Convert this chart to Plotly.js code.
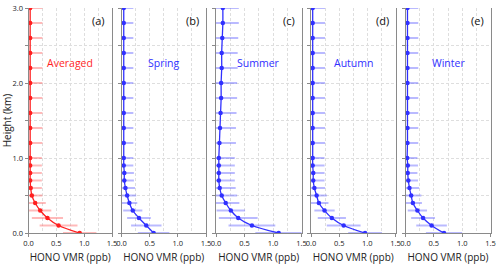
<!DOCTYPE html>
<html>
<head>
<meta charset="utf-8">
<script src="https://cdn.plot.ly/plotly-3.0.1.min.js"></script>
<style>
  html, body { margin: 0; padding: 0; background: #fff; }
  #chart { width: 500px; height: 264px; }
</style>
</head>
<body>
<div id="chart"></div>
<script>
// Heights (km)
const heights = [0, 0.1, 0.2, 0.3, 0.4, 0.5, 0.6, 0.7, 0.8, 0.9, 1.0, 1.2, 1.4, 1.6, 1.8, 2.0, 2.2, 2.4, 2.6, 2.8, 3.0];

// HONO VMR (ppb) and standard deviations
const averagedVals = [0.92, 0.54, 0.34, 0.21, 0.12, 0.06, 0.04, 0.03, 0.03, 0.03, 0.03, 0.03, 0.03, 0.03, 0.03, 0.03, 0.03, 0.03, 0.03, 0.03, 0.03];
const averagedErr  = [0.30, 0.34, 0.28, 0.20, 0.19, 0.19, 0.20, 0.21, 0.21, 0.21, 0.21, 0.22, 0.22, 0.22, 0.22, 0.22, 0.22, 0.22, 0.22, 0.22, 0.22];

const springVals = [0.57, 0.44, 0.31, 0.20, 0.14, 0.10, 0.07, 0.05, 0.05, 0.04, 0.04, 0.04, 0.04, 0.04, 0.04, 0.04, 0.04, 0.04, 0.04, 0.04, 0.04];
const springErr  = [0.28, 0.27, 0.21, 0.17, 0.14, 0.16, 0.17, 0.17, 0.17, 0.17, 0.17, 0.17, 0.17, 0.17, 0.17, 0.17, 0.17, 0.17, 0.17, 0.17, 0.17];

const summerVals = [1.10, 0.63, 0.39, 0.26, 0.17, 0.10, 0.065, 0.05, 0.05, 0.05, 0.05, 0.06, 0.07, 0.08, 0.09, 0.09, 0.10, 0.10, 0.11, 0.12, 0.12];
const summerErr  = [0.41, 0.41, 0.34, 0.25, 0.24, 0.27, 0.28, 0.28, 0.28, 0.28, 0.28, 0.29, 0.28, 0.28, 0.28, 0.28, 0.28, 0.28, 0.28, 0.28, 0.28];

const autumnVals = [0.96, 0.58, 0.37, 0.24, 0.14, 0.10, 0.06, 0.04, 0.04, 0.03, 0.03, 0.03, 0.03, 0.03, 0.03, 0.03, 0.03, 0.03, 0.03, 0.03, 0.03];
const autumnErr  = [0.30, 0.30, 0.25, 0.18, 0.17, 0.18, 0.19, 0.20, 0.20, 0.21, 0.21, 0.22, 0.22, 0.22, 0.22, 0.22, 0.22, 0.22, 0.22, 0.22, 0.22];

const winterVals = [0.68, 0.46, 0.31, 0.21, 0.13, 0.10, 0.07, 0.05, 0.04, 0.04, 0.03, 0.035, 0.035, 0.035, 0.035, 0.035, 0.035, 0.035, 0.035, 0.035, 0.035];
const winterErr  = [0.32, 0.27, 0.21, 0.17, 0.16, 0.18, 0.17, 0.17, 0.17, 0.18, 0.18, 0.19, 0.19, 0.19, 0.19, 0.19, 0.19, 0.19, 0.19, 0.19, 0.19];

const panelNames  = ['Averaged', 'Spring', 'Summer', 'Autumn', 'Winter'];
const panelTags   = ['(a)', '(b)', '(c)', '(d)', '(e)'];
const panelVals   = [averagedVals, springVals, summerVals, autumnVals, winterVals];
const panelErrs   = [averagedErr, springErr, summerErr, autumnErr, winterErr];

const xTickVals = [0, 0.5, 1.0, 1.5];
const xTickText = ['0.0', '0.5', '1.0', '1.5'];
const yTickVals = [0, 0.5, 1.0, 1.5, 2.0, 2.5, 3.0];
const yTickText = ['0.0', '', '1.0', '', '2.0', '', '3.0'];

const xTitle = 'HONO VMR (ppb)';
const yTitle = 'Height (km)';

// Styling (kept out of data)
const W = 500, H = 264;
const lineColors = ['#ff1f1f', '#3030ff', '#3030ff', '#3030ff', '#3030ff'];
const errColors  = ['rgba(255,90,90,0.42)', 'rgba(90,90,255,0.42)', 'rgba(90,90,255,0.42)', 'rgba(90,90,255,0.42)', 'rgba(90,90,255,0.42)'];
const panelPx = [[28.5, 112], [121.5, 206], [216, 301.5], [311, 395.5], [405.5, 490.5]];
const plotTop = 8, plotBottom = 233;
const FONT = '"Open Sans", "Noto Sans", sans-serif';
const GRID = '#dedede';
const AXIS = '#8a8a8a';

const traces = [];
const layout = {
  width: W, height: H,
  margin: {l: 0, r: 0, t: 0, b: 0},
  paper_bgcolor: '#fff', plot_bgcolor: '#fff',
  showlegend: false,
  font: {family: FONT, color: '#222', size: 9},
  annotations: []
};

const yDomain = [(H - plotBottom) / H, (H - plotTop) / H];

for (let i = 0; i < 5; i++) {
  const sfx = i === 0 ? '' : String(i + 1);
  const xa = 'x' + sfx, ya = 'y' + sfx;
  traces.push({
    type: 'scatter', mode: 'lines+markers',
    x: panelVals[i], y: heights,
    xaxis: xa, yaxis: ya,
    line: {color: lineColors[i], width: 1.3, shape: 'spline', smoothing: 1},
    marker: {color: lineColors[i], size: 4.5, symbol: 'circle'},
    error_x: {type: 'data', array: panelErrs[i], symmetric: true, visible: true,
              color: errColors[i], thickness: 2, width: 0},
    hoverinfo: 'x+y'
  });

  layout['xaxis' + sfx] = {
    domain: [panelPx[i][0] / W, panelPx[i][1] / W],
    anchor: ya,
    range: [0, 1.5],
    tickmode: 'array', tickvals: xTickVals, ticktext: xTickText,
    ticks: 'outside', ticklen: 3, tickcolor: AXIS, tickwidth: 1,
    tickfont: {size: 7.5, color: '#222'},
    showline: true, linecolor: AXIS, linewidth: 1, mirror: false,
    showgrid: true, gridcolor: GRID, griddash: '3px,2px', gridwidth: 1,
    minor: {dtick: 0.25, tick0: 0, showgrid: true, gridcolor: GRID, griddash: '3px,2px', gridwidth: 1, ticks: ''},
    zeroline: false,
    title: {text: xTitle, font: {size: 10, color: '#222'}, standoff: 6},
    fixedrange: true
  };
  layout['yaxis' + sfx] = {
    domain: yDomain,
    anchor: xa,
    range: [0, 3],
    tickmode: 'array', tickvals: yTickVals, ticktext: yTickText,
    showticklabels: i === 0,
    ticks: 'outside', ticklen: 3, tickcolor: AXIS, tickwidth: 1,
    tickfont: {size: 7.5, color: '#222'},
    showline: true, linecolor: AXIS, linewidth: 1, mirror: true,
    showgrid: true, gridcolor: GRID, griddash: '3px,2px', gridwidth: 1,
    zeroline: false,
    fixedrange: true
  };
  if (i === 0) {
    layout.yaxis.title = {text: yTitle, font: {size: 10, color: '#222'}, standoff: 4};
  }

  layout.annotations.push({
    xref: xa + ' domain', yref: ya,
    x: 1, y: 2.83, xanchor: 'right', yanchor: 'middle', xshift: -5,
    text: panelTags[i], showarrow: false,
    font: {size: 11, color: '#111', family: FONT}
  });
  layout.annotations.push({
    xref: xa + ' domain', yref: ya,
    x: 0.5, y: 2.27, xanchor: 'center', yanchor: 'middle',
    text: panelNames[i], showarrow: false,
    font: {size: 10.5, color: lineColors[i], family: FONT}
  });
}

Plotly.newPlot('chart', traces, layout, {displayModeBar: false, staticPlot: true});
</script>
</body>
</html>
